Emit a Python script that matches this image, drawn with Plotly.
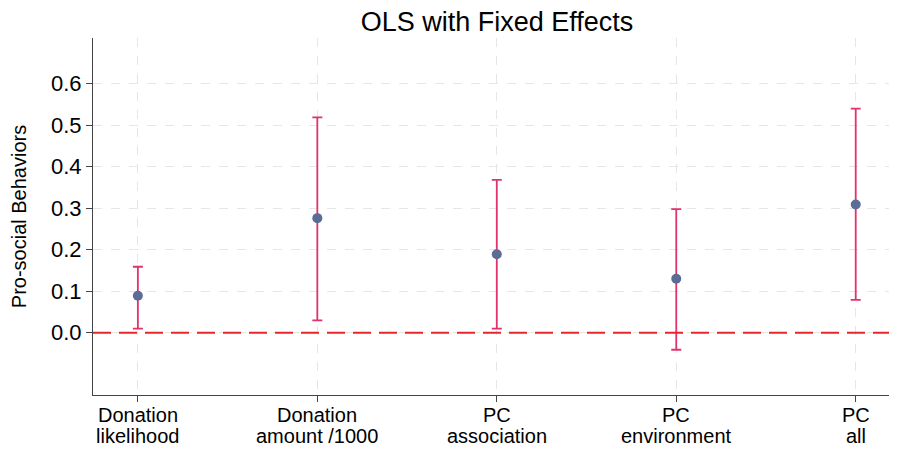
import plotly.graph_objects as go

label_line1 = ["Donation", "Donation", "PC", "PC", "PC"]
label_line2 = ["likelihood", "amount /1000", "association", "environment", "all"]
estimates = [0.089, 0.276, 0.189, 0.130, 0.309]
ci_low = [0.010, 0.030, 0.010, -0.041, 0.079]
ci_high = [0.159, 0.519, 0.368, 0.298, 0.540]
y_ticks = [0.0, 0.1, 0.2, 0.3, 0.4, 0.5, 0.6]

xs = list(range(len(label_line1)))
plus = [h - e for h, e in zip(ci_high, estimates)]
minus = [e - l for e, l in zip(estimates, ci_low)]

fig = go.Figure()
fig.add_trace(go.Scatter(
    x=xs, y=estimates, mode="markers",
    marker=dict(color="#5b6d95", size=10),
    error_y=dict(type="data", array=plus, arrayminus=minus, color="#e0336b",
                 thickness=1.8, width=5),
    showlegend=False,
))
fig.add_hline(y=0, line=dict(color="#e8262a", width=2, dash="18px,8px"))

for x, l1, l2 in zip(xs, label_line1, label_line2):
    fig.add_annotation(x=x, xref="x", y=0, yref="paper", text=l1, showarrow=False,
                       yanchor="middle", yshift=-20, font=dict(size=20))
    fig.add_annotation(x=x, xref="x", y=0, yref="paper", text=l2, showarrow=False,
                       yanchor="middle", yshift=-41, font=dict(size=20))

fig.update_layout(
    width=889, height=441,
    margin=dict(l=85, r=0, t=30, b=54),
    paper_bgcolor="white", plot_bgcolor="white",
    title=dict(text="OLS with Fixed Effects", x=0.5025, xref="paper", xanchor="center", y=0.97, yanchor="middle",
               font=dict(family="Liberation Sans, Arial", size=27, color="black")),
    font=dict(family="Liberation Sans, Arial", size=20, color="black"),
)
fig.update_xaxes(
    range=[-0.25, 4.23], tickvals=xs, showticklabels=False,
    showline=True, linecolor="#444", linewidth=1.2,
    ticks="outside", ticklen=6, tickcolor="#444",
    showgrid=True, gridcolor="#e6e6e6", griddash="dash", gridwidth=1,
    zeroline=False, automargin=False,
)
fig.update_yaxes(
    range=[-0.15, 0.71], tickvals=y_ticks, ticktext=[f"{v:.1f}" for v in y_ticks],
    showline=True, linecolor="#444", linewidth=1.2,
    ticks="outside", ticklen=6, tickcolor="#444",
    showgrid=True, gridcolor="#e6e6e6", griddash="dash", gridwidth=1,
    zeroline=False, tickfont=dict(size=22), automargin=False,
    title=dict(text="Pro-social Behaviors", font=dict(size=20), standoff=20),
)
fig.write_html("out.html")
